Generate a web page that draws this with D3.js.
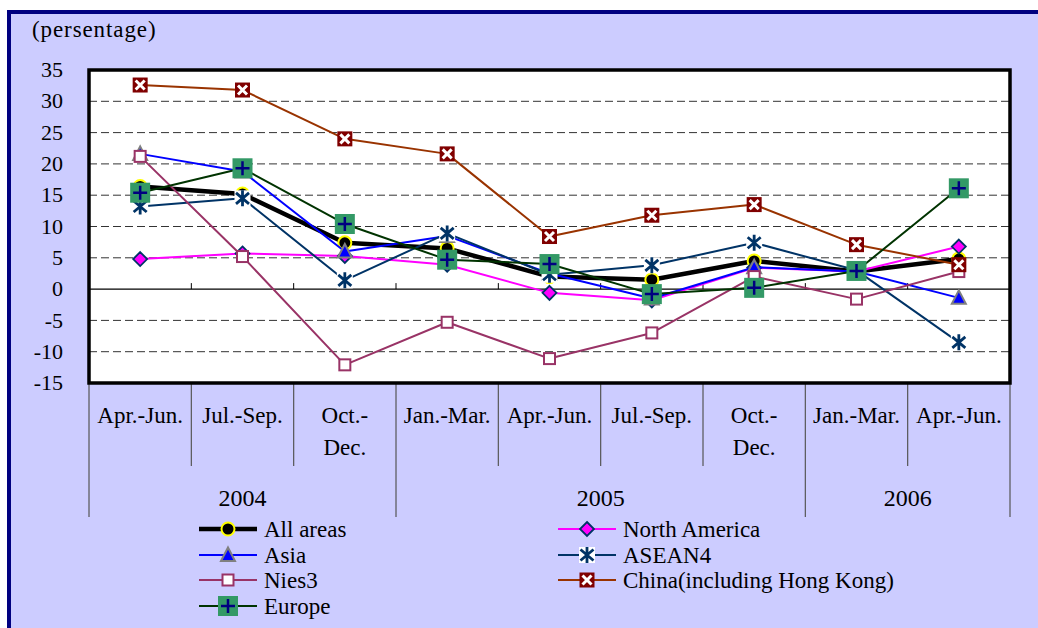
<!DOCTYPE html>
<html><head><meta charset="utf-8">
<script src="https://cdn.jsdelivr.net/npm/d3@7"></script>
<style>html,body{margin:0;padding:0;background:#fff;}svg{display:block;}</style>
</head><body>
<svg id="c" width="1038" height="628"></svg>
<script>
const quarters = ["Apr.-Jun.","Jul.-Sep.","Oct.-\nDec.","Jan.-Mar.","Apr.-Jun.","Jul.-Sep.","Oct.-\nDec.","Jan.-Mar.","Apr.-Jun."];
const years = [{label:"2004", start:0, end:3},{label:"2005", start:3, end:7},{label:"2006", start:7, end:9}];
const yTicks = [35,30,25,20,15,10,5,0,-5,-10,-15];
const allAreas     = [16.4, 15.2, 7.4, 6.5, 2.0, 1.5, 4.5, 2.8, 4.8];
const northAmerica = [4.8, 5.7, 5.3, 3.9, -0.6, -1.8, 3.4, 2.8, 6.8];
const asia         = [21.6, 18.8, 6.0, 8.5, 2.5, -1.5, 3.5, 2.8, -1.4];
const asean4       = [13.2, 14.5, 1.4, 8.9, 2.3, 3.8, 7.4, 3.0, -8.5];
const nies3        = [21.2, 5.2, -12.1, -5.3, -11.1, -7.0, 2.0, -1.6, 2.8];
const china        = [32.6, 31.8, 24.0, 21.6, 8.4, 11.8, 13.5, 7.1, 3.9];
const europe       = [15.4, 19.3, 10.4, 4.7, 4.0, -0.8, 0.2, 2.9, 16.1];
const seriesNames  = ["All areas","North America","Asia","ASEAN4","Nies3","China(including Hong Kong)","Europe"];

const series = [
  {name:seriesNames[0], values:allAreas, color:"#000000", width:4.5, marker:"circle"},
  {name:seriesNames[1], values:northAmerica, color:"#FF00FF", width:2, marker:"diamond"},
  {name:seriesNames[2], values:asia, color:"#0000FF", width:2, marker:"triangle"},
  {name:seriesNames[3], values:asean4, color:"#003366", width:2, marker:"star"},
  {name:seriesNames[4], values:nies3, color:"#993366", width:2, marker:"square"},
  {name:seriesNames[5], values:china, color:"#993300", width:2, marker:"xbox"},
  {name:seriesNames[6], values:europe, color:"#003300", width:2, marker:"plusbox"}
];

const svg = d3.select("#c");
const FONT = "'Liberation Serif','Times New Roman',serif";
svg.append("rect").attr("x",0).attr("y",0).attr("width",1038).attr("height",628).attr("fill","#fff");
svg.append("rect").attr("x",9).attr("y",12).attr("width",1040).attr("height",630)
  .attr("fill","#CCCCFF").attr("stroke","#000080").attr("stroke-width",4);

const L=89, R=1010, T=70, B=383;
const x = d3.scaleBand().domain(d3.range(quarters.length)).range([L,R]).padding(0);
const y = d3.scaleLinear().domain([-15,35]).range([B,T]);

svg.append("rect").attr("x",L).attr("y",T).attr("width",R-L).attr("height",B-T).attr("fill","#fff");

// gridlines
svg.append("g").selectAll("line").data(yTicks.filter(d=>d!==0 && d!==35 && d!==-15)).join("line")
  .attr("x1",L).attr("x2",R).attr("y1",d=>y(d)).attr("y2",d=>y(d))
  .attr("stroke","#333").attr("stroke-width",1).attr("stroke-dasharray","8,4");

// zero axis with ticks
const zeroAxis = d3.axisTop(x).tickSize(6).tickFormat("");
const zg = svg.append("g").attr("transform",`translate(0,${y(0)})`).call(zeroAxis);
zg.select(".domain").attr("stroke","#000").attr("stroke-width",1.2).attr("d",`M${L},0H${R}`);
zg.selectAll(".tick line").attr("stroke","#000").attr("transform",`translate(${x.bandwidth()/2},0)`);
zg.selectAll(".tick").filter((d,i)=>i===quarters.length-1).remove();

// y labels
const ya = d3.axisLeft(y).tickValues(yTicks).tickSize(0).tickPadding(26).tickFormat(d=>String(d));
const yg = svg.append("g").attr("transform",`translate(${L},0)`).call(ya);
yg.select(".domain").remove();
yg.selectAll("text").attr("font-family",FONT).attr("font-size",22).attr("fill","#000").attr("dy","0.3em");

// category separators
const bounds = d3.range(quarters.length+1);
const yearBounds = new Set([0,3,7,9]);
svg.append("g").selectAll("line").data(bounds).join("line")
  .attr("x1",i=>i<quarters.length? x(i): R).attr("x2",i=>i<quarters.length? x(i): R)
  .attr("y1",B).attr("y2",i=>yearBounds.has(i)?517:466)
  .attr("stroke","#555").attr("stroke-width",1.2);

// quarter labels
const ql = svg.append("g");
quarters.forEach((q,i)=>{
  const t = ql.append("text").attr("x",x(i)+x.bandwidth()/2).attr("y",423)
    .attr("text-anchor","middle").attr("font-family",FONT).attr("font-size",23).attr("fill","#000");
  q.split("\n").forEach((s,k)=>t.append("tspan").attr("x",x(i)+x.bandwidth()/2).attr("dy",k?32:0).text(s));
});
years.forEach(yr=>{
  const cx = (x(yr.start) + (yr.end<quarters.length? x(yr.end): R))/2;
  svg.append("text").attr("x",cx).attr("y",506).attr("text-anchor","middle")
    .attr("font-family",FONT).attr("font-size",24).text(yr.label);
});

// plot border
svg.append("rect").attr("x",L).attr("y",T).attr("width",R-L).attr("height",B-T)
  .attr("fill","none").attr("stroke","#000").attr("stroke-width",3.5);

function drawMarker(g, type){
  switch(type){
    case "circle":
      g.append("circle").attr("r",6.5).attr("fill","#000").attr("stroke","#FFFF00").attr("stroke-width",2); break;
    case "diamond":
      g.append("path").attr("d","M0,-7L7,0L0,7L-7,0Z").attr("fill","#FF00FF").attr("stroke","#003366").attr("stroke-width",1.8); break;
    case "triangle":
      g.append("path").attr("d","M0,-7.5L7,6L-7,6Z").attr("fill","#0000FF").attr("stroke","#808080").attr("stroke-width",2); break;
    case "star":
      g.append("rect").attr("x",-8).attr("y",-8).attr("width",16).attr("height",16).attr("fill","#fff");
      g.append("path").attr("d","M0,-8V8M-6.5,-5.5L6.5,5.5M-6.5,5.5L6.5,-5.5").attr("stroke","#003366").attr("stroke-width",2.8).attr("fill","none"); break;
    case "square":
      g.append("rect").attr("x",-5.5).attr("y",-5.5).attr("width",11).attr("height",11).attr("fill","#fff").attr("stroke","#993366").attr("stroke-width",2); break;
    case "xbox":
      g.append("rect").attr("x",-7.5).attr("y",-7.5).attr("width",15).attr("height",15).attr("fill","#800000");
      g.append("path").attr("d","M-4.5,-4.5L4.5,4.5M-4.5,4.5L4.5,-4.5").attr("stroke","#fff").attr("stroke-width",3); break;
    case "plusbox":
      g.append("rect").attr("x",-10).attr("y",-10).attr("width",20).attr("height",20).attr("fill","#339966");
      g.append("path").attr("d","M0,-7V7M-7,0H7").attr("stroke","#000080").attr("stroke-width",2.5); break;
  }
}

const line = d3.line().x((d,i)=>x(i)+x.bandwidth()/2).y(d=>y(d));
series.forEach(s=>{
  const g = svg.append("g");
  g.append("path").attr("d",line(s.values)).attr("fill","none").attr("stroke",s.color).attr("stroke-width",s.width).attr("stroke-linejoin","round");
  s.values.forEach((v,i)=>{
    drawMarker(g.append("g").attr("transform",`translate(${x(i)+x.bandwidth()/2},${y(v)})`), s.marker);
  });
});

// title
svg.append("text").attr("x",32).attr("y",37).attr("font-family",FONT).attr("font-size",23)
  .attr("letter-spacing",0.9).text("(persentage)");

// legend
const legendPos = [[199,529],[558,529],[199,555],[558,555],[199,580],[558,580],[199,606]];
series.forEach((s,i)=>{
  const [lx,ly] = legendPos[i];
  const g = svg.append("g");
  g.append("line").attr("x1",lx).attr("x2",lx+58).attr("y1",ly).attr("y2",ly).attr("stroke",s.color).attr("stroke-width",s.width);
  drawMarker(g.append("g").attr("transform",`translate(${lx+29},${ly})`), s.marker);
  g.append("text").attr("x",lx+65).attr("y",ly+7.5).attr("font-family",FONT).attr("font-size",23).text(s.name);
});
</script>
</body></html>
